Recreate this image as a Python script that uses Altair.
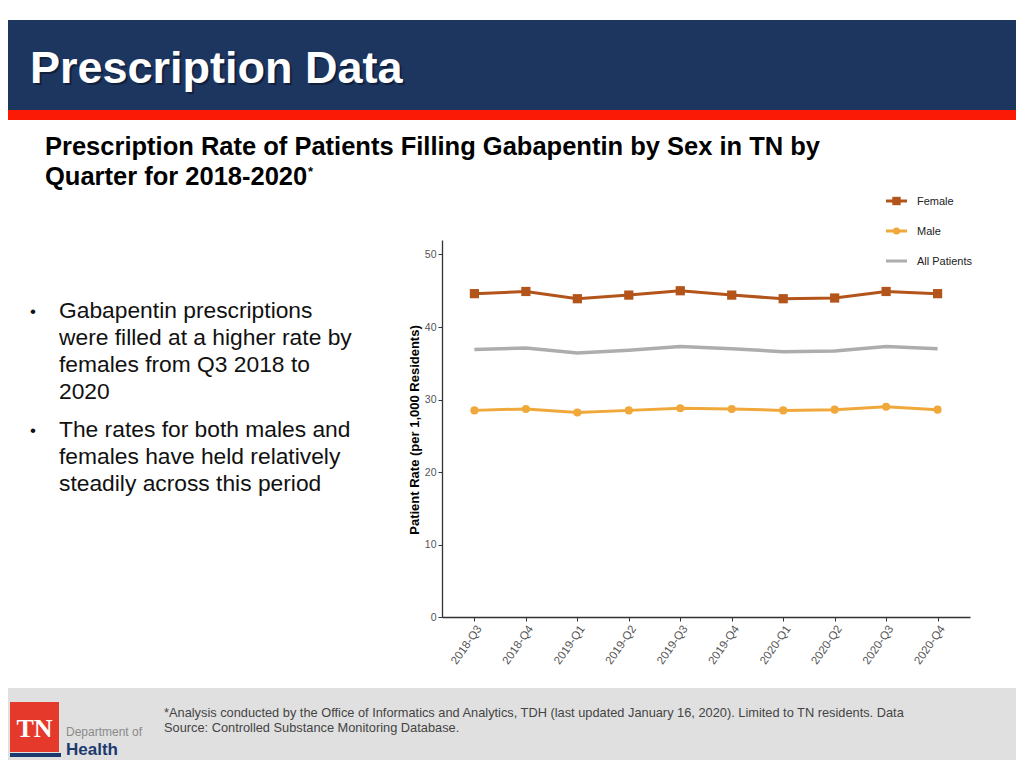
import altair as alt
import pandas as pd

# ---- data ----
quarters = ["2018-Q3", "2018-Q4", "2019-Q1", "2019-Q2", "2019-Q3",
            "2019-Q4", "2020-Q1", "2020-Q2", "2020-Q3", "2020-Q4"]
female = [44.6, 44.9, 43.9, 44.4, 45.0, 44.4, 43.9, 44.0, 44.9, 44.6]
male = [28.5, 28.7, 28.2, 28.5, 28.8, 28.7, 28.5, 28.6, 29.0, 28.6]
all_patients = [36.9, 37.1, 36.4, 36.8, 37.3, 37.0, 36.6, 36.7, 37.3, 37.0]
series_names = ["Female", "Male", "All Patients"]
series_colors = ["#b3541b", "#f0a83a", "#adadad"]

title_text = "Prescription Data"
subtitle_lines = ["Prescription Rate of Patients Filling Gabapentin by Sex in TN by",
                  "Quarter for 2018-2020"]
bullet1 = ["Gabapentin prescriptions", "were filled at a higher rate by",
           "females from Q3 2018 to", "2020"]
bullet2 = ["The rates for both males and", "females have held relatively",
           "steadily across this period"]
footnote = ["*Analysis conducted by the Office of Informatics and Analytics, TDH (last updated January 16, 2020). Limited to TN residents. Data",
            "Source: Controlled Substance Monitoring Database."]
y_title = "Patient Rate (per 1,000 Residents)"

df = pd.DataFrame({
    "quarter": quarters * 3,
    "rate": female + male + all_patients,
    "series": [series_names[0]] * 10 + [series_names[1]] * 10 + [series_names[2]] * 10,
})

FONT = "Liberation Sans"
one = pd.DataFrame({"k": [0]})

W, H = 528, 377  # plot area


def rect(x1, x2, y1, y2, color):
    return alt.Chart(one).mark_rect(color=color).encode(
        x=alt.value(x1), x2=alt.value(x2), y=alt.value(y1), y2=alt.value(y2))


def text(t, x, y, size, color="#000000", weight="normal", font=FONT, align="left",
         line_height=None, opacity=1.0):
    kw = dict(text=t, fontSize=size, color=color, fontWeight=weight, font=font,
              align=align, baseline="alphabetic", opacity=opacity)
    if line_height:
        kw["lineHeight"] = line_height
    return alt.Chart(one).mark_text(**kw).encode(x=alt.value(x), y=alt.value(y))


x_enc = alt.X("quarter:O", sort=quarters, title=None,
              scale=alt.Scale(padding=0.63),
              axis=alt.Axis(labelAngle=305, labelAlign="right", labelBaseline="top",
                            labelFontSize=11.5, labelColor="#555555", labelFont=FONT,
                            labelPadding=2, tickSize=4, tickColor="#333333",
                            domainColor="#333333", domainWidth=1.3, grid=False))
y_enc = alt.Y("rate:Q", title=y_title,
              scale=alt.Scale(domain=[0, 52], nice=False),
              axis=alt.Axis(values=[0, 10, 20, 30, 40, 50], labelFontSize=10.5,
                            labelColor="#555555", labelFont=FONT, tickSize=4,
                            tickColor="#333333", domainColor="#333333", domainWidth=1.3,
                            grid=False, titleFont=FONT, titleFontSize=13,
                            titleFontWeight="bold", titleColor="#000000",
                            titleX=-24, titleY=H / 2 + 1, titleBaseline="alphabetic",
                            titleAlign="center", titleAngle=270))
color_enc = alt.Color("series:N", scale=alt.Scale(domain=series_names, range=series_colors),
                      legend=None)

base = alt.Chart(df)
grey_line = base.transform_filter(alt.datum.series == "All Patients").mark_line(
    strokeWidth=3.5).encode(x=x_enc, y=y_enc, color=color_enc)
fem_line = base.transform_filter(alt.datum.series == "Female").mark_line(
    strokeWidth=3).encode(x=x_enc, y=y_enc, color=color_enc)
male_line = base.transform_filter(alt.datum.series == "Male").mark_line(
    strokeWidth=3).encode(x=x_enc, y=y_enc, color=color_enc)
fem_pts = base.transform_filter(alt.datum.series == "Female").mark_square(
    size=85, opacity=1).encode(x=x_enc, y=y_enc, color=color_enc)
male_pts = base.transform_filter(alt.datum.series == "Male").mark_circle(
    size=65, opacity=1).encode(x=x_enc, y=y_enc, color=color_enc)

# ---- decorations (positions relative to plot origin at page 442,240) ----
header = rect(-460, 600, -220, -130, "#1d365f")
stripe = rect(-460, 600, -130, -120, "#fb1a06")
footer = rect(-460, 600, 448, 540, "#e0e0e0")

title_shadow = text(title_text, -410, -155, 45, color="#0b1830", weight="bold", opacity=0.7)
title = text(title_text, -412, -157, 45, color="#ffffff", weight="bold")
subtitle = text(subtitle_lines, -397, -85, 25.5, weight="bold", line_height=30)
star = text("*", -134, -64, 13, weight="bold")

b1_dot = text("•", -412, 77, 17, color="#111111")
b1 = text(bullet1, -383, 78, 22.8, color="#111111", line_height=27)
b2_dot = text("•", -412, 196, 17, color="#111111")
b2 = text(bullet2, -383, 197, 22.8, color="#111111", line_height=27)

foot = text(footnote, -278, 477, 12.8, color="#444444", line_height=15)

logo_red = rect(-432, -383, 462, 512, "#e5392b")
logo_tn = text("TN", -407.5, 497, 26, color="#ffffff", weight="bold",
               font="Liberation Serif", align="center")
logo_bar = rect(-432, -381, 513, 517, "#1d3a6e")
logo_dept = text("Department of", -376, 496, 12, color="#8a8a8a")
logo_health = text("Health", -376, 515, 17, color="#1d3a6e", weight="bold")

# legend
leg = []
leg_rows = [(-39, 0), (-9, 1), (21, 2)]
for yy, i in leg_rows:
    leg.append(alt.Chart(one).mark_rule(color=series_colors[i], strokeWidth=3).encode(
        x=alt.value(444), x2=alt.value(465), y=alt.value(yy)))
    leg.append(text(series_names[i], 475, yy + 4, 11, color="#222222"))
leg.append(alt.Chart(one).mark_square(color=series_colors[0], size=70, opacity=1).encode(
    x=alt.value(454.5), y=alt.value(-39)))
leg.append(alt.Chart(one).mark_circle(color=series_colors[1], size=50, opacity=1).encode(
    x=alt.value(454.5), y=alt.value(-9)))

chart = alt.layer(
    header, stripe, footer, title_shadow, title, subtitle, star,
    b1_dot, b1, b2_dot, b2, foot, logo_red, logo_tn, logo_bar, logo_dept, logo_health,
    grey_line, male_line, male_pts, fem_line, fem_pts, *leg
).properties(
    width=W, height=H,
    autosize=alt.AutoSizeParams(type="none"),
    padding={"left": 434, "top": 232, "right": 46, "bottom": 143},
    background="white",
).configure_view(strokeWidth=0)

chart.save("out.html", embed_options={"renderer": "svg", "actions": False})
